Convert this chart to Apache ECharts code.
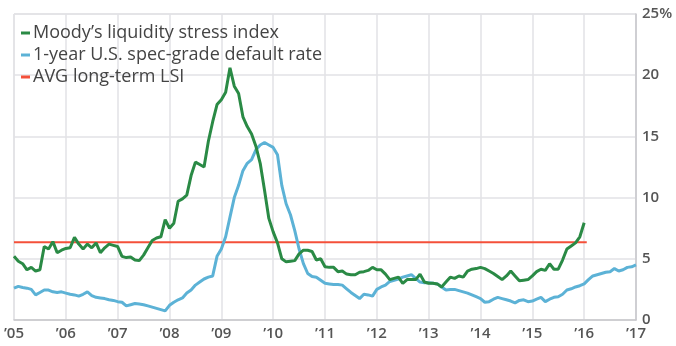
<!DOCTYPE html>
<html>
<head>
<meta charset="utf-8">
<script src="https://cdn.jsdelivr.net/npm/echarts@6/dist/echarts.min.js"></script>
<style>
html,body{margin:0;padding:0;background:#fff;}
#chart{width:676px;height:346px;}
</style>
</head>
<body>
<div id="chart"></div>
<script>
// Monthly values, Jan 2005 onward
const startYear = 2005;
const lsiName = 'Moody’s liquidity stress index';
const defaultName = '1-year U.S. spec-grade default rate';
const avgName = 'AVG long-term LSI';

const lsiValues = [
  // 2005
  5.2, 4.8, 4.6, 4.1, 4.3, 4.0, 4.1, 6.0, 5.8, 6.4, 5.5, 5.7,
  // 2006
  5.85, 5.9, 6.75, 6.2, 5.8, 6.2, 5.9, 6.3, 5.5, 5.9, 6.2, 6.1,
  // 2007
  6.0, 5.2, 5.1, 5.15, 4.9, 4.85, 5.3, 5.9, 6.5, 6.7, 6.8, 8.2,
  // 2008
  7.5, 7.9, 9.7, 9.9, 10.2, 11.8, 12.9, 12.7, 12.5, 14.6, 16.2, 17.6,
  // 2009
  18.0, 18.6, 20.6, 19.1, 18.5, 16.6, 15.8, 15.2, 14.2, 12.8, 10.6, 8.3,
  // 2010
  7.2, 6.3, 5.0, 4.75, 4.8, 4.85, 5.4, 5.7, 5.7, 5.6, 4.9, 5.0,
  // 2011
  4.35, 4.3, 4.3, 3.95, 4.0, 3.75, 3.7, 3.7, 3.9, 3.95, 4.05, 4.3,
  // 2012
  4.1, 4.1, 3.75, 3.3, 3.4, 3.5, 3.0, 3.3, 3.3, 3.3, 3.75, 3.1,
  // 2013
  3.0, 3.0, 2.95, 2.7, 3.1, 3.5, 3.4, 3.6, 3.5, 4.0, 4.15, 4.2,
  // 2014
  4.3, 4.2, 4.0, 3.8, 3.55, 3.3, 3.6, 4.0, 3.6, 3.2, 3.25, 3.3,
  // 2015
  3.6, 3.95, 4.15, 4.05, 4.6, 4.15, 4.15, 4.9, 5.8, 6.05, 6.3, 6.8,
  // 2016
  7.95
];

const defaultValues = [
  // 2005
  2.6, 2.75, 2.65, 2.6, 2.5, 2.05, 2.25, 2.45, 2.45, 2.3, 2.25, 2.3,
  // 2006
  2.2, 2.1, 2.05, 1.95, 2.1, 2.3, 2.0, 1.85, 1.8, 1.75, 1.65, 1.6,
  // 2007
  1.5, 1.45, 1.15, 1.25, 1.35, 1.3, 1.25, 1.15, 1.05, 0.95, 0.85, 0.75,
  // 2008
  1.2, 1.45, 1.65, 1.8, 2.2, 2.45, 2.85, 3.1, 3.35, 3.5, 3.6, 5.2,
  // 2009
  5.8, 6.8, 8.4, 10.0, 11.0, 12.2, 12.8, 13.1, 13.9, 14.3, 14.5, 14.3,
  // 2010
  14.1, 13.5, 11.0, 9.5, 8.6, 7.3, 5.8, 4.6, 3.8, 3.55, 3.5, 3.25,
  // 2011
  3.0, 2.95, 2.9, 2.9, 2.85, 2.55, 2.25, 2.0, 1.75, 2.1, 2.05, 1.95,
  // 2012
  2.5, 2.7, 2.85, 3.15, 3.25, 3.35, 3.5, 3.6, 3.7, 3.4, 3.1, 3.05,
  // 2013
  3.05, 3.0, 2.95, 2.7, 2.45, 2.5, 2.5, 2.4, 2.3, 2.2, 2.05, 1.9,
  // 2014
  1.75, 1.45, 1.5, 1.7, 1.85, 1.75, 1.65, 1.55, 1.4, 1.6, 1.65, 1.5,
  // 2015
  1.55, 1.7, 1.85, 1.5, 1.7, 1.85, 1.9, 2.1, 2.45, 2.55, 2.7, 2.8,
  // 2016
  2.95, 3.3, 3.6, 3.7, 3.8, 3.9, 3.95, 4.2, 4.0, 4.1, 4.3, 4.35,
  // 2017
  4.5
];

const avgLevel = 6.35;
const avgSpan = [2005, 2016.05];

const xTicks = ['’05','’06','’07','’08','’09','’10','’11','’12','’13','’14','’15','’16','’17'];
const yTicks = ['0','5','10','15','20','25%'];

const toPoints = arr => arr.map((v, i) => [startYear + i / 12, v]);

const chart = echarts.init(document.getElementById('chart'), null, {renderer: 'canvas'});
const labelStyle = {color: '#555', fontSize: 15, fontWeight: 600, fontFamily: 'Open Sans'};

chart.setOption({
  animation: false,
  backgroundColor: '#fff',
  grid: {left: 14, right: 40, top: 14, bottom: 26, show: true, borderColor: '#d4d4d8', borderWidth: 1},
  legend: {
    orient: 'vertical', left: 16, top: 18, itemGap: 2,
    icon: 'rect', itemWidth: 9, itemHeight: 3,
    data: [lsiName, defaultName, avgName],
    textStyle: {color: '#444', fontSize: 18, lineHeight: 20, fontFamily: 'Open Sans', padding: [0, 0, 0, -2]}
  },
  xAxis: {
    type: 'value', min: 2005, max: 2017, interval: 1,
    axisLine: {show: true, lineStyle: {color: '#c8c8cc', width: 1.5}},
    axisTick: {show: false},
    splitLine: {show: true, lineStyle: {color: '#e2e2e6', width: 1.5}},
    axisLabel: Object.assign({margin: 6, formatter: v => xTicks[Math.round(v - 2005)]}, labelStyle)
  },
  yAxis: {
    type: 'value', position: 'right', min: 0, max: 25, interval: 5,
    axisLine: {show: true, lineStyle: {color: '#c8c8cc', width: 1.5}},
    axisTick: {show: false},
    splitLine: {show: true, lineStyle: {color: '#e2e2e6', width: 1.5}},
    axisLabel: Object.assign({margin: 6, formatter: v => yTicks[Math.round(v / 5)]}, labelStyle)
  },
  series: [
    {
      name: avgName, type: 'line', showSymbol: false, symbol: 'none',
      data: [[avgSpan[0], avgLevel], [avgSpan[1], avgLevel]],
      lineStyle: {color: '#f4503a', width: 2}, itemStyle: {color: '#f4503a'}, z: 2
    },
    {
      name: defaultName, type: 'line', showSymbol: false, symbol: 'none',
      data: toPoints(defaultValues),
      lineStyle: {color: '#5cb2d6', width: 3}, itemStyle: {color: '#5cb2d6'}, z: 3
    },
    {
      name: lsiName, type: 'line', showSymbol: false, symbol: 'none',
      data: toPoints(lsiValues),
      lineStyle: {color: '#2a8a45', width: 3}, itemStyle: {color: '#2a8a45'}, z: 4
    }
  ]
});
</script>
</body>
</html>
